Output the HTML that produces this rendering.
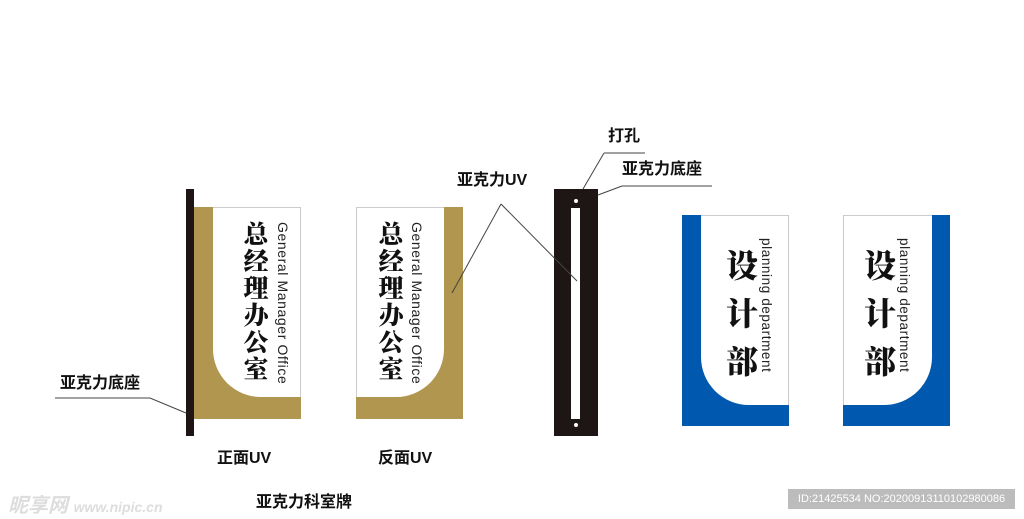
<!DOCTYPE html>
<html><head><meta charset="utf-8"><style>
body{margin:0;width:1024px;height:519px;background:#fff;position:relative;overflow:hidden;font-family:"Liberation Sans","Noto Sans CJK SC",sans-serif}
.a{position:absolute}
.lbl{position:absolute;font-weight:bold;font-size:16px;color:#111;white-space:nowrap;line-height:18px}
.cn{position:absolute;font-family:"Noto Serif CJK SC",serif;font-weight:900;font-size:25px;line-height:27px;width:30px;text-align:center;color:#111}
.en{position:absolute;font-family:"Liberation Sans",sans-serif;font-size:14px;writing-mode:vertical-rl;color:#222;letter-spacing:0.6px;white-space:nowrap}
</style></head><body>
<!-- sign 1 -->
<div class="a" style="left:186px;top:189px;width:8px;height:247px;background:#1d1614"></div>
<div class="a" style="left:194px;top:207px;width:107px;height:212px;background:#b0964e"></div>
<div class="a" style="left:213px;top:207px;width:88px;height:190px;background:#fff;border-bottom-left-radius:48px;border-top:1px solid #ccc;border-right:1px solid #ccc;box-sizing:border-box"></div>
<div class="cn" style="left:241px;top:220px">总<br>经<br>理<br>办<br>公<br>室</div>
<div class="en" style="left:275px;top:222px">General Manager Office</div>
<!-- sign 2 -->
<div class="a" style="left:356px;top:207px;width:107px;height:212px;background:#b0964e"></div>
<div class="a" style="left:356px;top:207px;width:88px;height:190px;background:#fff;border-bottom-right-radius:48px;border-left:1px solid #ccc;border-top:1px solid #ccc;box-sizing:border-box"></div>
<div class="cn" style="left:376px;top:220px">总<br>经<br>理<br>办<br>公<br>室</div>
<div class="en" style="left:409px;top:222px">General Manager Office</div>
<!-- stand -->
<div class="a" style="left:554px;top:189px;width:44px;height:247px;background:#1d1614"></div>
<div class="a" style="left:571px;top:208px;width:9px;height:211px;background:#fff"></div>
<div class="a" style="left:574px;top:199px;width:4px;height:4px;background:#fff;border-radius:50%"></div>
<div class="a" style="left:574px;top:423px;width:4px;height:4px;background:#fff;border-radius:50%"></div>
<!-- blue 1 -->
<div class="a" style="left:682px;top:215px;width:107px;height:211px;background:#0059ae"></div>
<div class="a" style="left:701px;top:215px;width:88px;height:190px;background:#fff;border-bottom-left-radius:48px;border-top:1px solid #ccc;border-right:1px solid #ccc;box-sizing:border-box"></div>
<div class="cn" style="left:724px;top:240px;font-size:32px;line-height:48px;width:36px">设<br>计<br>部</div>
<div class="en" style="left:759px;top:238px;font-size:13.5px">planning department</div>
<!-- blue 2 -->
<div class="a" style="left:843px;top:215px;width:107px;height:211px;background:#0059ae"></div>
<div class="a" style="left:843px;top:215px;width:89px;height:190px;background:#fff;border-bottom-right-radius:48px;border-top:1px solid #ccc;border-left:1px solid #ccc;box-sizing:border-box"></div>
<div class="cn" style="left:862px;top:240px;font-size:32px;line-height:48px;width:36px">设<br>计<br>部</div>
<div class="en" style="left:897px;top:238px;font-size:13.5px">planning department</div>
<svg class="a" style="left:0;top:0" width="1024" height="519">
<g stroke="#444" stroke-width="1" fill="none">
<polyline points="604,153 645,153"/><line x1="604" y1="153" x2="583" y2="189"/>
<polyline points="622,186 712,186"/><line x1="622" y1="186" x2="598" y2="195"/>
<line x1="501" y1="204" x2="452" y2="293"/><line x1="501" y1="204" x2="577" y2="281"/>
<polyline points="55,398 150,398 186,413"/>
</g></svg>
<div class="lbl" style="left:608px;top:128px">打孔</div>
<div class="lbl" style="left:622px;top:161px">亚克力底座</div>
<div class="lbl" style="left:457px;top:172px">亚克力UV</div>
<div class="lbl" style="left:60px;top:375px">亚克力底座</div>
<div class="lbl" style="left:217px;top:450px">正面UV</div>
<div class="lbl" style="left:378px;top:450px">反面UV</div>
<div class="lbl" style="left:256px;top:494px">亚克力科室牌</div>
<div class="a" style="left:8px;top:489px;font-size:20px;color:#ddd;font-style:italic;font-weight:bold">昵享网 <span style="font-size:14px">www.nipic.cn</span></div>
<div class="a" style="left:788px;top:489px;width:227px;height:20px;background:#bcbcbc;color:#fff;font-size:11px;line-height:20px;text-align:center">ID:21425534 NO:20200913110102980086</div>
</body></html>
